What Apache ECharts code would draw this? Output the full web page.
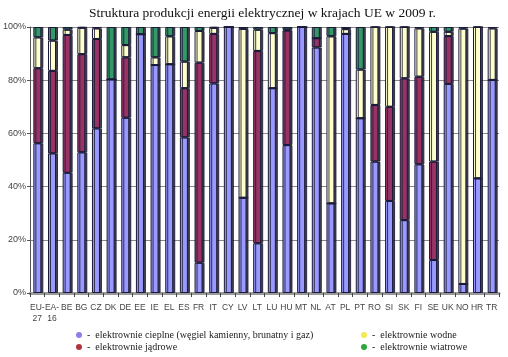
<!DOCTYPE html>
<html>
<head>
<meta charset="utf-8">
<script src="https://cdn.jsdelivr.net/npm/echarts@6/dist/echarts.min.js"></script>
<style>html,body{margin:0;padding:0;background:#fff}#c{width:508px;height:357px}</style>
</head>
<body>
<div id="c"></div>
<script>
var categories = ['EU-\n27','EA-\n16','BE','BG','CZ','DK','DE','EE','IE','EL','ES','FR','IT','CY','LV','LT','LU','HU','MT','NL','AT','PL','PT','RO','SI','SK','FI','SE','UK','NO','HR','TR'];
var thermal = [56.3,52.5,45.2,52.9,61.9,80.3,65.9,97.3,85.7,86.0,58.5,11.4,78.8,100,35.8,18.7,77.0,55.6,100,92.3,33.7,97.4,65.7,49.4,34.6,27.4,48.4,12.4,78.6,3.4,43.1,80.1];
var nuclear = [28.2,31.0,51.8,36.9,33.6,0,22.7,0,0,0,18.5,75.2,18.6,0,0,72.3,0,43.1,0,3.5,0,0,0,21.3,35.4,53.3,32.9,37.0,18.0,0,0,0];
var hydro   = [11.6,11.4,2.0,9.9,4.0,0,4.6,0,2.9,10.5,10.0,11.9,2.3,0,63.5,8.0,20.7,0.3,0,0,62.8,1.8,18.3,29.3,30.0,19.3,18.2,48.8,1.6,96.0,56.9,19.4];
var wind    = [3.9,5.1,1.0,0.3,0.5,19.7,6.8,2.7,11.4,3.5,13.0,1.5,0.3,0,0.7,1.0,2.3,1.0,0,4.2,3.5,0.8,16.0,0,0,0,0.5,1.8,1.8,0.6,0,0.5];
var seriesNames = ['elektrownie cieplne (węgiel kamienny, brunatny i gaz)','elektrownie jądrowe','elektrownie wodne','elektrownie wiatrowe'];
var yTicks = [0,20,40,60,80,100];

var barColors = ['#9999FF','#993366','#FFFFCC','#339966'];
var dotColors = ['#8a80e6','#b03540','#f5e850','#2ea83a'];
var dataSets = [thermal, nuclear, hydro, wind];

var chart = echarts.init(document.getElementById('c'), null, {renderer:'canvas'});
var series = dataSets.map(function(d, i){
  return {
    name: seriesNames[i], type:'bar', stack:'s', data:d, barWidth:8,
    itemStyle:{color:barColors[i], borderColor:'#1a1a3a', borderWidth:1,
      shadowColor:'rgba(30,30,50,0.85)', shadowOffsetX:2, shadowOffsetY:0, shadowBlur:0},
    emphasis:{disabled:true}, animation:false
  };
});
var legendText = {fontFamily:'Liberation Serif', fontSize:10, color:'#222', lineHeight:12};
chart.setOption({
  animation:false,
  title:{text:'Struktura produkcji energii elektrycznej w krajach UE w 2009 r.', left:89, top:6, padding:0,
    textStyle:{fontFamily:'Liberation Serif', fontSize:13.5, fontWeight:'normal', color:'#111'}},
  grid:{left:30, right:9, top:27, bottom:64},
  legend:[
    {left:76, top:329, orient:'vertical', padding:0, itemGap:0, itemWidth:6, itemHeight:6, icon:'circle',
     data:[{name:seriesNames[0], itemStyle:{color:dotColors[0], borderWidth:0}},{name:seriesNames[1], itemStyle:{color:dotColors[1], borderWidth:0}}],
     formatter:function(n){return '-  '+n;}, selectedMode:false, textStyle:legendText},
    {left:361, top:329, orient:'vertical', padding:0, itemGap:0, itemWidth:6, itemHeight:6, icon:'circle',
     data:[{name:seriesNames[2], itemStyle:{color:dotColors[2], borderWidth:0}},{name:seriesNames[3], itemStyle:{color:dotColors[3], borderWidth:0}}],
     formatter:function(n){return '-  '+n;}, selectedMode:false, textStyle:legendText}
  ],
  xAxis:{type:'category', data:categories,
    axisLine:{lineStyle:{color:'#9a9a9a', width:3}},
    axisTick:{show:true, length:4, lineStyle:{color:'#444'}},
    axisLabel:{fontFamily:'Liberation Sans', fontSize:8.5, color:'#444', margin:9, interval:0, lineHeight:11}},
  yAxis:{type:'value', min:yTicks[0], max:yTicks[yTicks.length-1], interval:20,
    axisLine:{show:true, lineStyle:{color:'#555'}},
    axisTick:{show:true, length:3, lineStyle:{color:'#555'}},
    axisLabel:{formatter:'{value}%', fontFamily:'Liberation Sans', fontSize:9, color:'#444', margin:4},
    splitLine:{lineStyle:{color:'#888', width:1}}},
  series:series
});
</script>
</body>
</html>
